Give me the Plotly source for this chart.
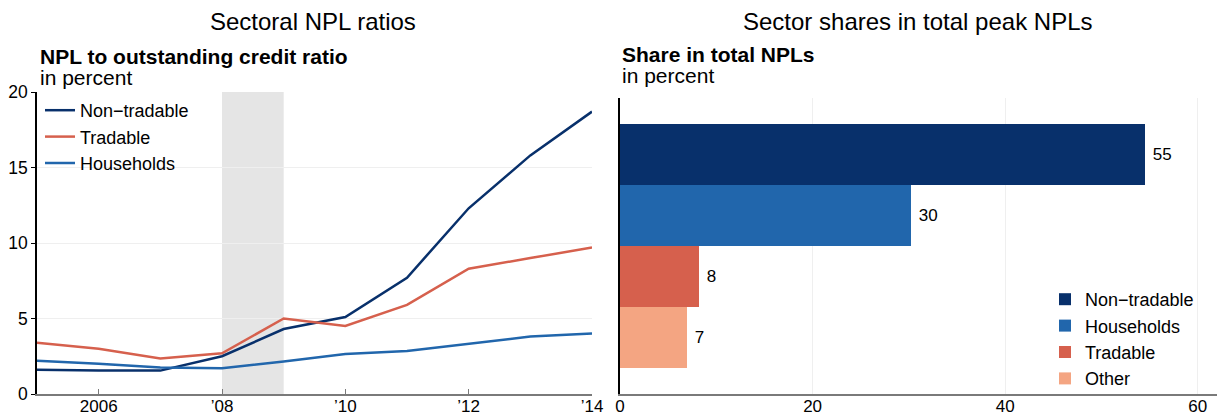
import plotly.graph_objects as go

years = [2005, 2006, 2007, 2008, 2009, 2010, 2011, 2012, 2013, 2014]
non_tradable = [1.6, 1.55, 1.55, 2.5, 4.3, 5.1, 7.7, 12.3, 15.8, 18.7]
tradable = [3.4, 3.0, 2.35, 2.7, 5.0, 4.5, 5.9, 8.3, 9.0, 9.7]
households = [2.2, 2.0, 1.75, 1.7, 2.15, 2.65, 2.85, 3.35, 3.8, 4.0]

year_ticks = [2006, 2008, 2010, 2012, 2014]
year_labels = ["2006", "\u201908", "\u201910", "\u201912", "\u201914"]

share_sectors = ["Other", "Tradable", "Households", "Non\u2212tradable"]
share_values = [7.0, 8.2, 30.2, 54.5]
share_labels = ["7", "8", "30", "55"]

C_NT = "#08306b"
C_TR = "#d6604d"
C_HH = "#2166ac"
C_OT = "#f4a582"
FONT = "Liberation Sans, Arial, sans-serif"

fig = go.Figure()

for name, vals, col in [("Non\u2212tradable", non_tradable, C_NT),
                        ("Tradable", tradable, C_TR),
                        ("Households", households, C_HH)]:
    fig.add_trace(go.Scatter(x=years, y=vals, mode="lines", name=name,
                             line=dict(color=col, width=2.5),
                             xaxis="x", yaxis="y", legend="legend"))

bar_colors = [C_OT, C_TR, C_HH, C_NT]
for i in [3, 2, 1, 0]:
    fig.add_trace(go.Bar(y=[share_sectors[i]], x=[share_values[i]], orientation="h",
                         name=share_sectors[i], marker=dict(color=bar_colors[i], line=dict(width=0)),
                         text=[share_labels[i]], texttemplate=" %{text}", textposition="outside",
                         textfont=dict(size=17, color="black"), cliponaxis=False,
                         xaxis="x2", yaxis="y2", legend="legend2"))

fig.add_shape(type="rect", xref="x", yref="y", x0=2008, x1=2009, y0=0, y1=20,
              fillcolor="#e5e5e5", line=dict(width=0), layer="below")

W, H = 1217, 419
def px(v): return v / W
def py(v): return 1 - v / H

TICKF = dict(size=17)

fig.update_layout(
    width=W, height=H, margin=dict(l=0, r=0, t=0, b=0, autoexpand=False),
    paper_bgcolor="white", plot_bgcolor="white",
    font=dict(family=FONT, size=18, color="black"),
    barmode="overlay", bargap=0,
    xaxis=dict(domain=[px(37), px(592)], range=[2005, 2014], tickvals=year_ticks,
               ticktext=year_labels, showgrid=False, zeroline=False, automargin=False,
               showline=True, linecolor="#7a7a7a", linewidth=2, tickfont=TICKF,
               ticklabelstandoff=-4,
               ticks="inside", ticklen=5, tickcolor="#7a7a7a", anchor="y"),
    yaxis=dict(domain=[py(394), py(92)], range=[0, 20], tickvals=[0, 5, 10, 15, 20],
               showgrid=True, gridcolor="#efefef", gridwidth=1, zeroline=False,
               showline=True, linecolor="black", linewidth=1.5, automargin=False,
               tickfont=dict(size=17.5), ticks="outside", ticklen=4, tickcolor="black",
               anchor="x"),
    xaxis2=dict(domain=[px(620), 1.0], range=[0, 62], tickvals=[0, 20, 40, 60],
                showgrid=True, gridcolor="#efefef", zeroline=False, automargin=False,
                tickfont=TICKF, ticklabelstandoff=-4,
                showline=True, linecolor="#7a7a7a", linewidth=2, ticks="", anchor="y2"),
    yaxis2=dict(domain=[py(394), py(98)], range=[-0.92, 3.92], showticklabels=False,
                categoryorder="array", categoryarray=share_sectors, automargin=False,
                showgrid=False, zeroline=False, showline=True, linecolor="black",
                linewidth=1.5, ticks="", anchor="x2"),
    legend=dict(x=px(40), y=py(92), xanchor="left", yanchor="top",
                bgcolor="rgba(0,0,0,0)", font=dict(size=18), tracegroupgap=0,
                itemwidth=30),
    legend2=dict(x=px(1045), y=py(281), xanchor="left", yanchor="top",
                 bgcolor="rgba(0,0,0,0)", font=dict(size=18), tracegroupgap=0,
                 traceorder="normal"),
    showlegend=True,
)

ann = [
    dict(text="Sectoral NPL ratios", x=px(313), y=py(21), font=dict(size=24)),
    dict(text="Sector shares in total peak NPLs", x=px(918), y=py(21), font=dict(size=24)),
]
for a in ann:
    fig.add_annotation(xref="paper", yref="paper", xanchor="center", yanchor="middle",
                       showarrow=False, **a)

for text, x, y, bold in [("NPL to outstanding credit ratio", 38, 56, True),
                         ("in percent", 38, 77, False),
                         ("Share in total NPLs", 620, 54, True),
                         ("in percent", 620, 75, False)]:
    fig.add_annotation(xref="paper", yref="paper", x=px(x), y=py(y), xanchor="left",
                       yanchor="middle", showarrow=False,
                       text=f"<b>{text}</b>" if bold else text,
                       font=dict(size=21))

fig.write_html("out.html", config={"displayModeBar": False},
               post_script="document.body.style.margin='0';document.body.style.overflow='hidden';")
